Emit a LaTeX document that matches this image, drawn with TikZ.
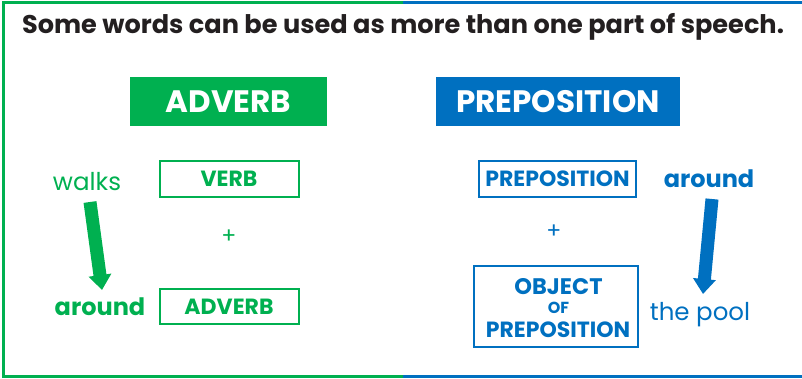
\documentclass[tikz,border=0pt]{standalone}
\usepackage{fontspec}
\setmainfont{Poppins}
\usetikzlibrary{arrows.meta}
\definecolor{gr}{RGB}{0,176,80}
\definecolor{bl}{RGB}{0,112,192}
\definecolor{ink}{RGB}{35,31,32}
\newcommand{\fs}[1]{\fontsize{#1}{#1}\selectfont}
\tikzset{
  frameg/.style={draw=gr,line width=3pt},
  frameb/.style={draw=bl,line width=3pt},
  header/.style={inner sep=0pt,minimum height=49pt,text=white,font=\fs{31}\bfseries},
  wordbox/.style={draw=#1,line width=2pt,inner sep=0pt,minimum height=36pt,text=#1,font=\fs{22}\bfseries},
  plain/.style={inner sep=0pt,text=#1,font=\fs{24.5}},
  boldword/.style={inner sep=0pt,text=#1,font=\fs{24}\bfseries},
  bigarrow/.style={draw=#1,line width=13pt,-{Triangle[width=22pt,length=15pt]}},
  plus/.style={inner sep=0pt,text=#1,font=\fs{22}}
}
\begin{document}
\begin{tikzpicture}[x=1pt,y=-1pt]
\useasboundingbox (0,0) rectangle (802,378);
% frame
\draw[frameg] (403,2) -- (3,2) -- (3,376) -- (403,376);
\draw[frameb] (403,2) -- (802,2);
\draw[frameb] (403,376) -- (802,376);
% title
\node[inner sep=0pt,text=ink,font=\fs{25.6}\bfseries] (title) at (403,27) {Some words can be used as more than one part of speech.};
% headers
\node[header,fill=gr,minimum width=197pt] (hadv) at (228.5,101.5) {ADVERB};
\node[header,fill=bl,minimum width=244pt] (hprep) at (558,101.5) {PREPOSITION};
% left
\node[wordbox=gr,minimum width=139pt] (verb) at (229,179) {VERB};
\node[plus=gr] (plusl) at (229,237) {+};
\node[wordbox=gr,minimum width=139pt,minimum height=35pt] (adv) at (229,306.5) {ADVERB};
\node[plain=gr] (walks) at (87,182) {walks};
\node[boldword=gr] (aroundl) at (100,307) {around};
\coordinate (ga1) at (90,202);
\coordinate (ga2) at (102,290);
\draw[bigarrow=gr] (ga1) -- (ga2);
% right
\node[wordbox=bl,minimum width=157pt] (prep) at (557.5,179) {PREPOSITION};
\node[plus=bl] (plusr) at (554,232) {+};
\node[draw=bl,line width=2pt,minimum width=164pt,minimum height=81pt,inner sep=0pt] (obj) at (556,306.5) {};
\node[inner sep=0pt,text=bl,font=\fs{22.5}\bfseries] (obj1) at (558.5,286.5) {OBJECT};
\node[inner sep=0pt,text=bl,font=\fs{16}\bfseries] (obj2) at (558.5,308) {OF};
\node[inner sep=0pt,text=bl,font=\fs{22}\bfseries] (obj3) at (558,330) {PREPOSITION};
\node[boldword=bl] (aroundr) at (709,179) {around};
\node[plain=bl] (pool) at (700,315) {the pool};
\coordinate (ba1) at (712,199);
\coordinate (ba2) at (703,294);
\draw[bigarrow=bl] (ba1) -- (ba2);
\end{tikzpicture}
\end{document}
